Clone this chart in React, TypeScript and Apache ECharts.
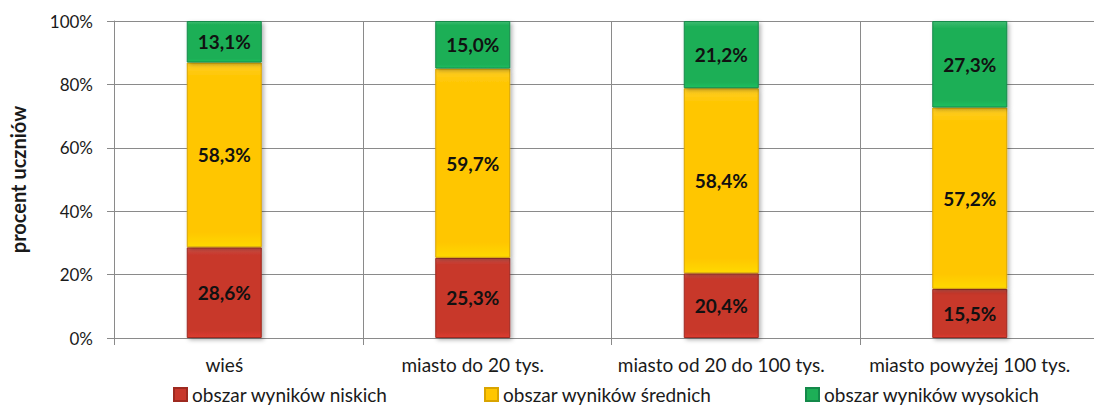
import React, { useEffect, useRef } from "react";
import * as echarts from "echarts";

const categories = ["wieś", "miasto do 20 tys.", "miasto od 20 do 100 tys.", "miasto powyżej 100 tys."];
const seriesNames = ["obszar wyników niskich", "obszar wyników średnich", "obszar wyników wysokich"];
const niskie = [28.6, 25.3, 20.4, 15.5];
const srednie = [58.3, 59.7, 58.4, 57.2];
const wysokie = [13.1, 15.0, 21.2, 27.3];
const yTicks = [0, 20, 40, 60, 80, 100];

const colors = ["#C8372B", "#FFC600", "#1DAF57"];
const borders = ["#9E2A20", "#D9A400", "#14894A"];
const FONT = "Lato, 'Open Sans', sans-serif";

export default function App() {
  const ref = useRef<HTMLDivElement>(null);
  useEffect(() => {
    const chart = echarts.init(ref.current!, null, { renderer: "svg" });
    const data = [niskie, srednie, wysokie];
    const legendLefts = [173, 484, 805];
    const band = 248.75;
    const frameLeft = 114;
    const frameWidth = 1094 - frameLeft;
    chart.setOption({
      animation: false,
      textStyle: { fontFamily: FONT },
      grid: [
        { left: 100, top: 21, width: 996, height: 317 },
        { left: frameLeft, top: 21, width: frameWidth, height: 317 },
      ],
      xAxis: [
        {
          type: "category",
          gridIndex: 0,
          data: categories,
          axisLine: { show: false },
          axisTick: { show: false },
          splitLine: { show: false },
          axisLabel: { interval: 0, hideOverlap: false, color: "#1a1a1a", fontSize: 19, margin: 17, fontFamily: FONT },
        },
        {
          type: "value",
          gridIndex: 1,
          min: 0,
          max: frameWidth / band,
          interval: 1,
          axisLine: { show: true, lineStyle: { color: "#8a8a8a", width: 1 } },
          axisTick: { show: true, length: 7, lineStyle: { color: "#8a8a8a" } },
          splitLine: { show: true, showMaxLine: false, lineStyle: { color: "#8a8a8a", width: 1 } },
          axisLabel: { show: false },
        },
      ],
      yAxis: [
        { type: "value", gridIndex: 0, min: 0, max: 100, show: false, splitLine: { show: false } },
        {
          type: "value",
          gridIndex: 1,
          min: yTicks[0],
          max: yTicks[yTicks.length - 1],
          interval: yTicks[1] - yTicks[0],
          name: "procent uczniów",
          nameLocation: "middle",
          nameGap: 86,
          nameRotate: 90,
          nameTextStyle: { fontSize: 20, fontWeight: "bold", color: "#1a1a1a", fontFamily: FONT },
          axisLine: { show: true, lineStyle: { color: "#8a8a8a", width: 1 } },
          axisTick: { show: true, length: 7, lineStyle: { color: "#8a8a8a" } },
          splitLine: { show: true, lineStyle: { color: "#8a8a8a", width: 1 } },
          axisLabel: { formatter: "{value}%", fontSize: 17, color: "#1a1a1a", margin: 21, fontFamily: FONT },
        },
      ],
      legend: seriesNames.map((n, i) => ({
        data: [n],
        left: legendLefts[i],
        top: 385,
        icon: "rect",
        itemWidth: 13,
        itemHeight: 13,
        itemGap: 5,
        padding: 0,
        textStyle: { fontSize: 19, color: "#1a1a1a", fontFamily: FONT },
      })),
      series: seriesNames.map((n, i) => ({
        name: n,
        type: "bar",
        stack: "total",
        xAxisIndex: 0,
        yAxisIndex: 0,
        barWidth: 75,
        data: data[i],
        itemStyle: {
          color: {
            type: "linear",
            x: 0, y: 0, x2: 0, y2: 1,
            colorStops: [
              { offset: 0, color: echarts.color.lift(colors[i], 0.15) },
              { offset: 0.08, color: colors[i] },
              { offset: 0.92, color: colors[i] },
              { offset: 1, color: echarts.color.lift(colors[i], -0.1) },
            ],
          },
          borderColor: borders[i],
          borderWidth: 1,
          shadowBlur: 4,
          shadowOffsetX: 2,
          shadowOffsetY: 2,
          shadowColor: "rgba(0,0,0,0.3)",
        },
        label: {
          show: true,
          position: "inside",
          fontSize: 19,
          fontWeight: "bold",
          color: "#111",
          fontFamily: FONT,
          formatter: (p: any) => p.value.toFixed(1).replace(".", ",") + "%",
        },
      })),
    });
    return () => chart.dispose();
  }, []);
  return (
    <div
      ref={ref}
      style={{ position: "fixed", left: 0, top: 0, width: 1094, height: 405, background: "#fff" }}
    />
  );
}
